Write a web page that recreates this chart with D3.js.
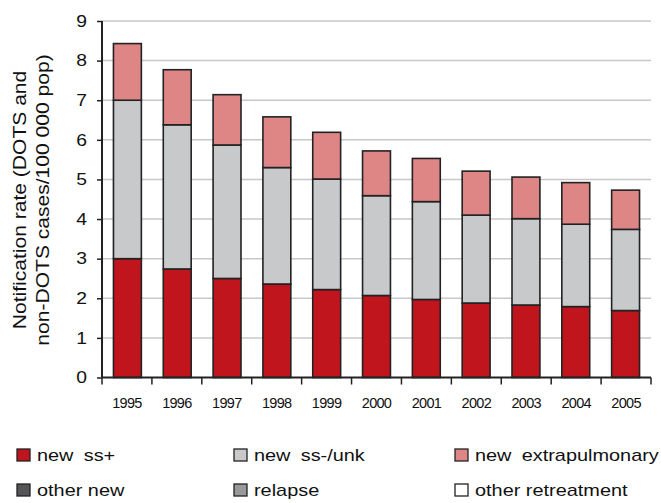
<!DOCTYPE html>
<html><head><meta charset="utf-8">
<script src="https://cdn.jsdelivr.net/npm/d3@7/dist/d3.min.js"></script>
<style>body{margin:0;background:#fff}svg{display:block;font-family:"Liberation Sans",Arial,sans-serif}</style>
</head><body>
<svg id="c" width="661" height="503"></svg>
<script>
const years = ["1995","1996","1997","1998","1999","2000","2001","2002","2003","2004","2005"];
const newSsPos = [3.00,2.74,2.50,2.36,2.22,2.07,1.97,1.88,1.83,1.79,1.69];
const newSsNegUnk = [4.00,3.64,3.37,2.94,2.79,2.52,2.47,2.22,2.18,2.08,2.05];
const newExtrapulmonary = [1.43,1.39,1.27,1.28,1.18,1.13,1.09,1.11,1.05,1.05,0.99];
const otherNew = [0,0,0,0,0,0,0,0,0,0,0];
const relapse = [0,0,0,0,0,0,0,0,0,0,0];
const otherRetreatment = [0,0,0,0,0,0,0,0,0,0,0];
const seriesNames = ["new ss+","new ss-/unk","new extrapulmonary","other new","relapse","other retreatment"];
const seriesColors = ["#c1151e","#c8c9cb","#de8686","#555557","#98999b","#ffffff"];
const yTicks = [0,1,2,3,4,5,6,7,8,9];

const SX = 1.17; // horizontal text stretch seen in the reference
const svg = d3.select("#c");
const m = {l:102, r:651, t:21, b:377.5};
const x = d3.scaleBand().domain(years).range([m.l, m.r]).paddingInner(0.44).paddingOuter(0.23);
const xb = d3.scaleBand().domain(years).range([m.l, m.r]);
const y = d3.scaleLinear().domain([0,9]).range([m.b, m.t]);

// gridlines
svg.append("g").selectAll("line").data(yTicks.filter(d=>d>0)).join("line")
  .attr("x1", m.l).attr("x2", m.r).attr("y1", d=>y(d)).attr("y2", d=>y(d))
  .attr("stroke", "#c8c8c8").attr("stroke-width", 1.5);

const seriesData = [newSsPos,newSsNegUnk,newExtrapulmonary,otherNew,relapse,otherRetreatment];
const table = years.map((yr,i)=>{const o={year:yr}; seriesNames.forEach((n,k)=>o[n]=seriesData[k][i]); return o;});
const stack = d3.stack().keys(seriesNames)(table);

svg.append("g").selectAll("g").data(stack).join("g")
  .attr("fill", (d,i)=>seriesColors[i])
  .selectAll("rect").data(d=>d.filter(p=>p[1]-p[0]>0)).join("rect")
  .attr("x", d=>x(d.data.year)).attr("width", x.bandwidth())
  .attr("y", d=>y(d[1])).attr("height", d=>y(d[0])-y(d[1]))
  .attr("stroke", "#222").attr("stroke-width", 1.6);

// y axis
const ya = svg.append("g").attr("transform", `translate(${m.l},0)`)
  .call(d3.axisLeft(y).tickValues(yTicks).tickSize(5).tickPadding(8).tickFormat(d3.format("d")));
ya.select(".domain").attr("stroke","#222").attr("stroke-width",2).attr("d", `M0,${m.t}V${m.b}`);
ya.selectAll(".tick line").attr("stroke","#222").attr("stroke-width",1.5);
ya.selectAll(".tick text").attr("font-size",16.5).attr("fill","#111")
  .attr("font-family","Liberation Sans, Arial, sans-serif")
  .attr("x", -15/SX).attr("transform", `scale(${SX},1)`);

// x axis
const xa = svg.append("g").attr("transform", `translate(0,${m.b})`)
  .call(d3.axisBottom(xb).tickSize(0).tickPadding(0));
xa.select(".domain").attr("stroke","#222").attr("stroke-width",2).attr("d", `M${m.l},0H${m.r}`);
xa.selectAll(".tick text").attr("font-size",14.5).attr("fill","#111").attr("y",26).attr("dy","0.32em")
  .attr("letter-spacing","-0.7").attr("font-family","Liberation Sans, Arial, sans-serif");
svg.append("g").selectAll("line").data(years.concat(["end"])).join("line")
  .attr("x1",(d,i)=>m.l+i*xb.step()).attr("x2",(d,i)=>m.l+i*xb.step())
  .attr("y1",m.b).attr("y2",m.b+7).attr("stroke","#222").attr("stroke-width",1.5);

// y title
const yt = svg.append("text").attr("transform",`translate(26,200) rotate(-90) scale(${SX},1)`)
  .attr("text-anchor","middle").attr("font-size",18).attr("fill","#111");
yt.append("tspan").attr("x",0).attr("y",0).text("Notification rate (DOTS and");
yt.append("tspan").attr("x",0).attr("y",23).text("non-DOTS cases/100 000 pop)");

// legend
const legX = [17, 234, 455];
const legY = [455, 490];
const lg = svg.append("g").selectAll("g").data(seriesNames).join("g")
  .attr("transform",(d,i)=>`translate(${legX[i%3]},${legY[Math.floor(i/3)]})`);
lg.append("rect").attr("x",0).attr("y",-6).attr("width",13).attr("height",12)
  .attr("fill",(d,i)=>seriesColors[i]).attr("stroke","#222").attr("stroke-width",1.3);
lg.append("text").attr("transform",`translate(20,0) scale(${SX},1)`).attr("x",0).attr("y",0).attr("dy","0.36em")
  .attr("font-size",17).attr("fill","#111")
  .attr("word-spacing",(d,i)=>i<3?"4":"0").text(d=>d);
</script>
</body></html>
